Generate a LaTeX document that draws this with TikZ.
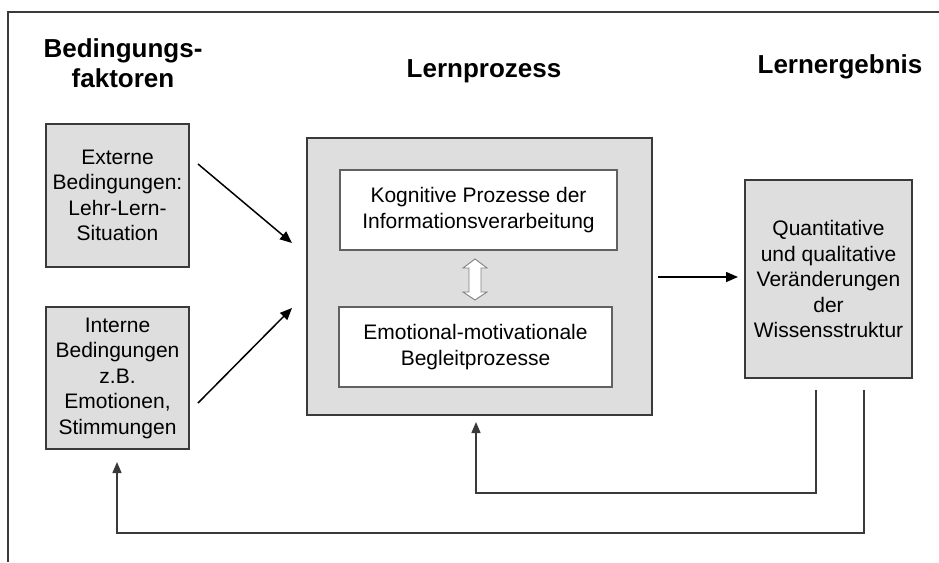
\documentclass[tikz,border=0pt]{standalone}
\usepackage{fontspec}
\setmainfont{Liberation Sans}
\usetikzlibrary{arrows.meta,calc}
\definecolor{boxgray}{HTML}{DEDEDE}
\definecolor{edgegray}{HTML}{3A3A3A}
\begin{document}
\begin{tikzpicture}[x=1pt,y=-1pt,
  titletext/.style={font=\fontsize{26}{30}\selectfont\bfseries, inner sep=0pt, align=center},
  graybox/.style={draw=edgegray, fill=boxgray, line width=1.4pt, inner sep=0pt, align=center,
    font=\fontsize{21}{25.5}\selectfont},
  whitebox/.style={draw=edgegray!80, fill=white, line width=1.1pt, inner sep=0pt, align=center,
    font=\fontsize{21}{25.5}\selectfont},
  flow/.style={line width=1.5pt, -{Triangle[length=12pt,width=10pt]}},
  back/.style={draw=edgegray, line width=1.4pt, -{Triangle[length=11pt,width=9pt]}}]
\useasboundingbox (0,0) rectangle (939,562);
% frame
\coordinate (fa) at (939,12);
\coordinate (fb) at (8,12);
\coordinate (fc) at (8,562);
\draw[edgegray, line width=1.4pt] (fa) -- (fb) -- (fc);
% titles
\node[titletext, anchor=north] (t1) at (123,38.5) {Bedingungs-\\faktoren};
\node[titletext, anchor=base] (t2) at (484,77) {Lernprozess};
\node[titletext, anchor=base] (t3) at (840,73) {Lernergebnis};
% left boxes
\node[graybox, minimum width=143pt, minimum height=143pt] (ext) at (117.5,195.5)
  {Externe\\Bedingungen:\\Lehr-Lern-\\Situation};
\node[graybox, minimum width=143pt, minimum height=142pt] (int) at (117.5,378)
  {Interne\\Bedingungen\\z.B.\\Emotionen,\\Stimmungen};
% big process box
\node[graybox, minimum width=345pt, minimum height=277pt] (proc) at (479.5,276.5) {};
\node[whitebox, minimum width=277pt, minimum height=80pt] (kog) at (478.5,210)
  {Kognitive Prozesse der\\Informationsverarbeitung};
\node[whitebox, minimum width=273pt, minimum height=80pt] (emo) at (475.5,347)
  {Emotional-motivationale\\Begleitprozesse};
% result box
\node[graybox, minimum width=167pt, minimum height=198pt] (res) at (828.5,279)
  {Quantitative\\und qualitative\\Veränderungen\\der\\Wissensstruktur};
% double arrow between kog and emo
\coordinate (da) at (475,279.5);
\draw[draw=gray, fill=white, line width=0.9pt]
  ($(da)+(0,-20.5)$) -- ++(12,9) -- ++(-6,0) -- ++(0,24) -- ++(6,0)
  -- ($(da)+(0,20.5)$) -- ++(-12,-8) -- ++(6,0) -- ++(0,-24) -- ++(-6,0) -- cycle;
% input arrows
\coordinate (e1) at (198,164);
\coordinate (p1) at (292,243);
\coordinate (i1) at (198,403);
\coordinate (p2) at (292,308);
\draw[flow] (e1) -- (p1);
\draw[flow] (i1) -- (p2);
% output arrow
\coordinate (o1) at (658,277);
\coordinate (r1) at (738,277);
\draw[flow] (o1) -- (r1);
% feedback loops
\coordinate (r2) at (816,390);
\coordinate (b1) at (816,493);
\coordinate (b2) at (476,493);
\coordinate (p3) at (476,422);
\draw[back] (r2) -- (b1) -- (b2) -- (p3);
\coordinate (r3) at (864,390);
\coordinate (c1) at (864,533);
\coordinate (c2) at (117,533);
\coordinate (i2) at (117,462);
\draw[back] (r3) -- (c1) -- (c2) -- (i2);
\end{tikzpicture}
\end{document}
